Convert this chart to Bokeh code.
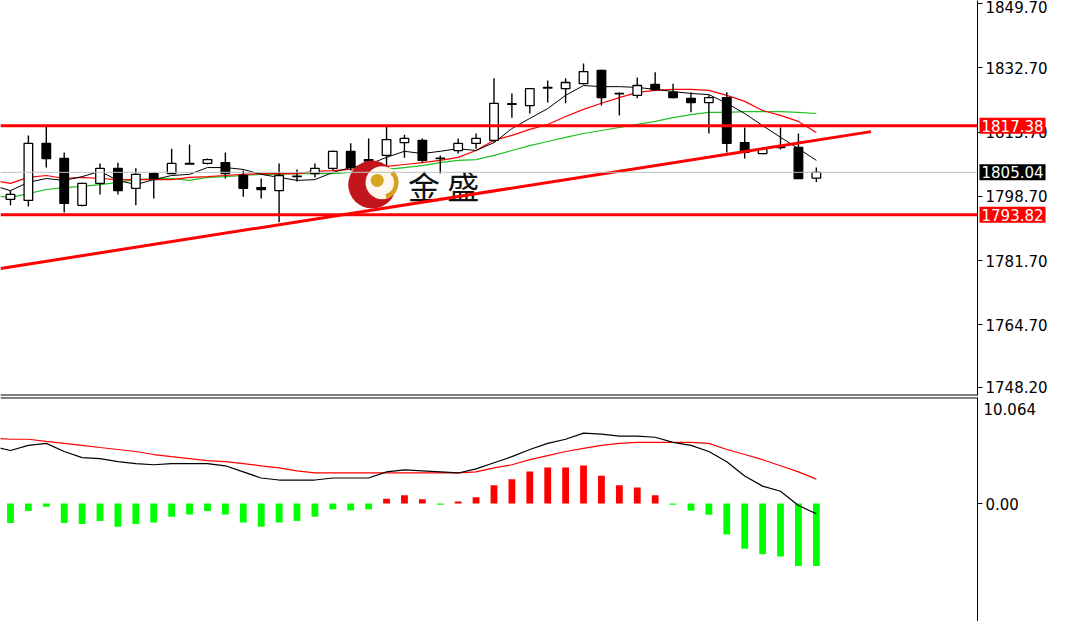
from bokeh.plotting import figure
from bokeh.models import Span, Label, FixedTicker, PrintfTickFormatter, Range1d
from bokeh.layouts import column
from bokeh.embed import file_html
from bokeh.resources import INLINE
from bokeh.core.properties import value

# ---------------- data ----------------
idx = list(range(46))
line_idx = list(range(-1, 46))

opens = [1797.9, 1797.6, 1812.7, 1808.7, 1796.3, 1802.1, 1806.1, 1800.8, 1804.7, 1804.7,
         1807.2, 1807.4, 1807.6, 1804.2, 1801.0, 1800.2, 1803.9, 1804.7, 1806.1, 1810.6,
         1808.4, 1809.5, 1812.9, 1813.5, 1808.7, 1810.8, 1812.7, 1813.5, 1823.0, 1822.7,
         1827.3, 1827.2, 1828.5, 1832.0, 1825.9, 1825.4, 1828.3, 1826.2, 1824.6, 1823.5,
         1824.8, 1812.9, 1810.0, 1811.8, 1811.6, 1803.5]
highs = [1800.2, 1814.8, 1817.2, 1810.3, 1802.3, 1807.4, 1807.6, 1806.1, 1805.0, 1811.3,
         1812.4, 1808.7, 1810.3, 1805.5, 1803.4, 1807.4, 1805.8, 1807.4, 1810.8, 1812.7,
         1814.0, 1817.2, 1815.0, 1814.0, 1809.5, 1814.0, 1815.3, 1829.9, 1825.9, 1827.3,
         1829.3, 1829.9, 1833.8, 1832.2, 1826.2, 1830.1, 1831.5, 1828.5, 1826.2, 1825.4,
         1826.2, 1816.9, 1811.6, 1816.9, 1815.3, 1806.3]
lows = [1796.3, 1796.0, 1806.3, 1794.4, 1796.0, 1799.2, 1799.2, 1796.3, 1798.1, 1804.5,
        1807.1, 1807.1, 1803.4, 1798.6, 1798.1, 1791.8, 1802.6, 1803.7, 1805.5, 1805.5,
        1805.0, 1805.0, 1808.9, 1807.6, 1804.7, 1810.0, 1811.3, 1812.9, 1819.5, 1820.6,
        1823.5, 1823.3, 1828.3, 1822.7, 1820.1, 1824.6, 1826.7, 1824.6, 1820.9, 1815.3,
        1810.3, 1808.7, 1809.8, 1811.1, 1803.4, 1802.5]
closes = [1799.2, 1812.7, 1808.7, 1796.8, 1802.1, 1806.1, 1800.2, 1804.5, 1803.4, 1807.4,
          1807.4, 1808.4, 1804.7, 1800.8, 1800.5, 1804.2, 1804.0, 1806.1, 1810.6, 1806.3,
          1808.0, 1813.7, 1814.0, 1808.2, 1808.8, 1812.7, 1814.0, 1823.3, 1823.2, 1827.2,
          1827.5, 1828.8, 1831.7, 1824.8, 1825.8, 1828.0, 1826.9, 1824.8, 1823.5, 1824.8,
          1812.7, 1810.3, 1811.3, 1811.6, 1803.4, 1805.04]

ma_black = [1801.6, 1800.2, 1802.4, 1803.4, 1802.9, 1803.9, 1805.3, 1802.9, 1801.8, 1803.1,
            1804.2, 1804.5, 1806.3, 1806.3, 1805.8, 1804.5, 1803.7, 1802.9, 1803.1, 1805.0,
            1806.3, 1807.1, 1809.0, 1810.6, 1810.0, 1810.6, 1811.3, 1810.8, 1812.9, 1816.6,
            1819.3, 1821.9, 1825.4, 1828.0, 1827.7, 1827.7, 1827.5, 1827.0, 1826.4, 1825.9,
            1825.6, 1823.3, 1820.6, 1817.4, 1814.3, 1811.3, 1808.2]
ma_red = [1802.9, 1802.1, 1803.7, 1804.2, 1803.4, 1803.7, 1803.4, 1803.1, 1803.1, 1803.1,
          1803.1, 1803.7, 1803.9, 1804.2, 1804.5, 1804.7, 1804.7, 1804.7, 1805.3, 1805.5,
          1805.8, 1806.3, 1806.6, 1807.1, 1807.6, 1808.2, 1809.0, 1810.8, 1813.5, 1814.8,
          1816.4, 1817.7, 1819.8, 1821.7, 1823.3, 1824.8, 1826.2, 1826.7, 1827.0, 1827.0,
          1826.7, 1825.4, 1823.8, 1821.4, 1820.1, 1818.5, 1815.6]
ma_green = [1798.9, 1798.4, 1799.4, 1800.5, 1801.0, 1801.3, 1801.8, 1802.4, 1803.1, 1803.4,
            1803.4, 1802.9, 1803.7, 1803.9, 1804.2, 1804.5, 1804.5, 1804.7, 1804.7, 1804.7,
            1805.0, 1805.5, 1805.8, 1806.3, 1806.8, 1807.6, 1808.2, 1808.4, 1809.5, 1810.8,
            1812.1, 1813.2, 1814.3, 1815.3, 1816.1, 1816.9, 1817.7, 1818.5, 1819.5, 1820.3,
            1820.9, 1820.9, 1821.1, 1821.1, 1821.1, 1820.9, 1820.6]

macd_main = [5.42, 5.03, 5.52, 5.71, 4.94, 4.36, 4.26, 3.97, 3.78, 3.68, 3.78, 3.78, 3.78,
             3.58, 3.0, 2.42, 2.23, 2.23, 2.23, 2.42, 2.42, 2.42, 3.0, 3.19, 3.1, 3.0, 2.9,
             3.29, 3.87, 4.45, 5.13, 5.71, 6.1, 6.68, 6.58, 6.39, 6.39, 6.29, 5.81, 5.52,
             4.94, 3.97, 2.61, 1.65, 1.16, -0.19, -0.97]
macd_signal = [6.2, 6.1, 6.1, 5.9, 5.71, 5.52, 5.32, 5.13, 4.94, 4.65, 4.45, 4.26, 4.07,
               3.97, 3.78, 3.58, 3.39, 3.1, 2.9, 2.9, 2.9, 2.9, 2.9, 2.9, 2.9, 2.9, 2.9,
               3.0, 3.39, 3.68, 4.16, 4.55, 4.94, 5.23, 5.52, 5.71, 5.81, 5.81, 5.81, 5.81,
               5.71, 5.13, 4.65, 4.16, 3.58, 3.0, 2.32]
macd_hist = [-1.84, -0.7, -0.3, -1.84, -1.95, -1.65, -2.2, -1.95, -1.8, -1.25, -1.05, -0.7,
             -1.05, -1.8, -2.2, -1.8, -1.65, -1.25, -0.55, -0.65, -0.55, 0.45, 0.78, 0.4,
             -0.12, 0.2, 0.6, 1.74, 2.3, 3.03, 3.42, 3.42, 3.6, 2.64, 1.74, 1.52, 0.78,
             -0.12, -0.68, -1.06, -2.93, -4.29, -4.81, -5.03, -5.93, -5.93]

price_ticks = [1748.2, 1764.7, 1781.7, 1798.7, 1815.7, 1832.7, 1849.7]
resistance = 1817.38
support = 1793.82
last_price = 1805.04
tag_values = [resistance, last_price, support]
tag_texts = ["1817.38", "1805.04", "1793.82"]
tag_colors = ["#FF0000", "#000000", "#FF0000"]
trend_x = [-0.55, 48.05]
trend_y = [1779.6, 1815.8]
macd_ticks = [0.0]
macd_max = 10.064
macd_min = -11.2
price_min, price_max = 1746.0, 1850.49
x_start, x_end = -0.557, 54.0

logo_x, logo_y = 20.2, 1801.8
logo_text = "金 盛"

FONT = "DejaVu Sans"
FSIZE = "15px"
RIGHT = 70
HIDDEN_LEFT = 280   # side room that holds the price-tag labels, shifted out of view
W = 1050 + 2 * HIDDEN_LEFT


def make_fig(h, yr, bottom):
    f = figure(width=W, height=h, x_range=xr, y_range=yr,
               output_backend="svg", toolbar_location=None,
               x_axis_location=None, y_axis_location="right",
               min_border_left=HIDDEN_LEFT, min_border_top=0, min_border_bottom=bottom,
               min_border_right=RIGHT, outline_line_color=None,
               background_fill_color="white", border_fill_color="white",
               margin=(0, 0, 0, -HIDDEN_LEFT))
    f.xgrid.grid_line_color = None
    f.ygrid.grid_line_color = None
    a = f.yaxis[0]
    a.formatter = PrintfTickFormatter(format="%.2f")
    a.major_tick_out = 5
    a.major_tick_in = 0
    a.minor_tick_out = 0
    a.minor_tick_in = 0
    a.axis_line_color = "black"
    a.major_tick_line_color = "black"
    a.major_label_text_font = FONT
    a.major_label_text_font_size = FSIZE
    a.major_label_text_color = "black"
    a.major_label_standoff = 3
    return f


xr = Range1d(x_start, x_end)

# ---------------- main price panel ----------------
p1 = make_fig(397, Range1d(price_min, price_max), 2)
p1.yaxis[0].ticker = FixedTicker(ticks=price_ticks)

p1.line(line_idx, ma_green, line_color="#22C022", line_width=1.2)
p1.line(line_idx, ma_red, line_color="#FF0000", line_width=1.2)
p1.line(line_idx, ma_black, line_color="#000000", line_width=1.0)

body_top = [max(o, c) for o, c in zip(opens, closes)]
body_bot = [min(o, c) for o, c in zip(opens, closes)]
body_fill = ["white" if c >= o else "black" for o, c in zip(opens, closes)]
p1.segment(x0=idx, y0=highs, x1=idx, y1=lows, line_color="black", line_width=1.4)
p1.vbar(x=idx, top=body_top, bottom=body_bot, width=0.48,
        fill_color=body_fill, line_color="black", line_width=1.3)

# logo watermark
p1.scatter([logo_x], [logo_y], size=48, fill_color="#C3161C", line_color=None)
p1.scatter([logo_x + 0.55], [logo_y + 0.5], size=33, fill_color="#FFF6EC", line_color=None)
p1.annular_wedge(x=[logo_x + 0.55], y=[logo_y + 0.5], inner_radius=12, outer_radius=16.5,
                 inner_radius_units="screen", outer_radius_units="screen",
                 start_angle=-1.3, end_angle=0.8, fill_color="#D4A020", line_color=None)
p1.scatter([logo_x + 0.28], [logo_y + 1.1], size=13, fill_color="#D8A722", line_color=None)
p1.text(x=[logo_x + 2.0], y=[logo_y], text=[logo_text],
        text_font=value("Noto Sans CJK SC"), text_font_size="32px",
        text_baseline="middle", text_align="left", text_color="#111111")

p1.line(trend_x, trend_y, line_color="#FF0000", line_width=3)
p1.add_layout(Span(location=last_price, dimension="width", line_color="#C0C0C0", line_width=1))
p1.add_layout(Span(location=resistance, dimension="width", line_color="#FF0000", line_width=3))
p1.add_layout(Span(location=support, dimension="width", line_color="#FF0000", line_width=3))
p1.add_layout(Span(location=price_min, dimension="width", line_color="black", line_width=2))

for val, txt, bg in zip(tag_values, tag_texts, tag_colors):
    p1.add_layout(Label(x=x_end, y=val, x_offset=2, text=txt, text_color="white",
                        text_font=FONT, text_font_size=FSIZE,
                        text_baseline="middle", text_align="left",
                        background_fill_color=bg, padding=2), "left")

# ---------------- MACD panel ----------------
p2 = make_fig(224, Range1d(macd_min, macd_max), 0)
p2.yaxis[0].ticker = FixedTicker(ticks=macd_ticks)

hist_col = ["#FF0000" if h > 0 else "#00FF00" for h in macd_hist]
p2.vbar(x=idx, top=macd_hist, bottom=0, width=0.38, fill_color=hist_col, line_color=None)
p2.line(line_idx, macd_signal, line_color="#FF0000", line_width=1.2)
p2.line(line_idx, macd_main, line_color="#000000", line_width=1.2)
p2.add_layout(Span(location=macd_max, dimension="width", line_color="black", line_width=2))

p2.add_layout(Label(x=x_end, y=macd_max, x_offset=6, y_offset=-5, text="10.064",
                    text_color="black", text_font=FONT, text_font_size=FSIZE,
                    text_baseline="top", text_align="left"), "left")

layout = column(p1, p2, spacing=0)
open("out.html", "w").write(file_html(layout, INLINE))
